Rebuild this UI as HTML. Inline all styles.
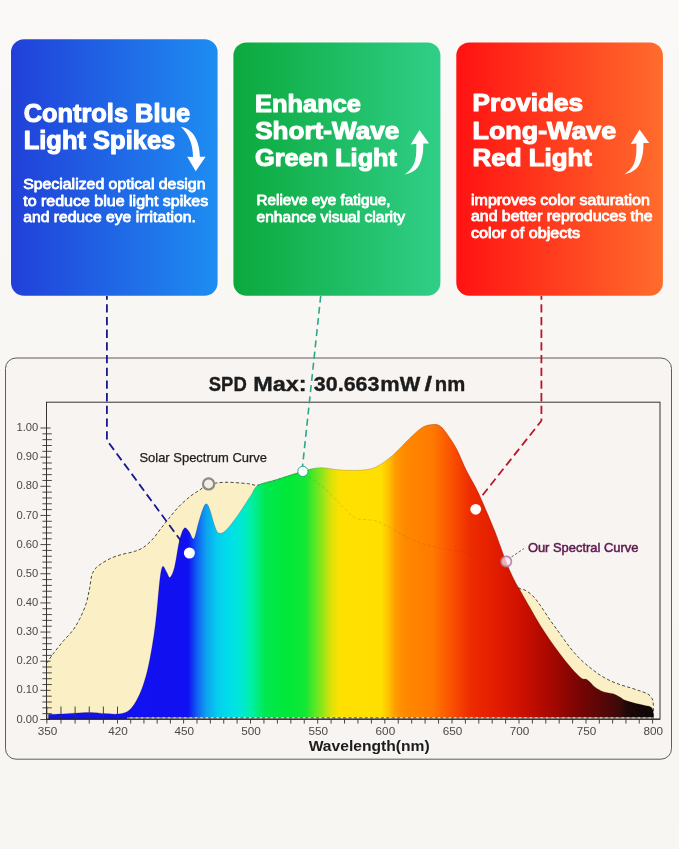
<!DOCTYPE html>
<html><head><meta charset="utf-8"><title>Spectrum</title>
<style>
html,body{margin:0;padding:0;background:#f9f6f3;}
body{width:679px;height:849px;overflow:hidden;font-family:"Liberation Sans",sans-serif;}
svg{display:block;will-change:transform;font-family:"Liberation Sans",sans-serif;}
.h{font-weight:bold;fill:#fff;stroke:#fff;stroke-width:1.1px;stroke-linejoin:round;}
.b{fill:#fff;stroke:#fff;stroke-width:.8px;stroke-linejoin:round;}
.ax{fill:#4a4a4a;font-size:11.7px;}
</style></head><body>
<svg width="679" height="849" viewBox="0 0 679 849">
<defs>
<linearGradient id="gb" x1="0" x2="1" y1="0" y2="0"><stop offset="0" stop-color="#2140d9"/><stop offset="1" stop-color="#1e8df2"/></linearGradient>
<linearGradient id="gg" x1="0" x2="1" y1="0" y2="0"><stop offset="0" stop-color="#0ba93c"/><stop offset="1" stop-color="#30cf88"/></linearGradient>
<linearGradient id="gr" x1="0" x2="1" y1="0" y2="0"><stop offset="0" stop-color="#ff1212"/><stop offset="1" stop-color="#ff6c2c"/></linearGradient>
<linearGradient id="sp" gradientUnits="userSpaceOnUse" x1="47" x2="653.6" y1="0" y2="0"><stop offset="0.0000" stop-color="#1212ee"/><stop offset="0.2324" stop-color="#1010f2"/><stop offset="0.2473" stop-color="#0f60f2"/><stop offset="0.2621" stop-color="#0ea0f0"/><stop offset="0.2803" stop-color="#06ccee"/><stop offset="0.3000" stop-color="#00deea"/><stop offset="0.3198" stop-color="#00e8d6"/><stop offset="0.3363" stop-color="#00f0a8"/><stop offset="0.3594" stop-color="#00e850"/><stop offset="0.3924" stop-color="#00e83c"/><stop offset="0.4253" stop-color="#10e834"/><stop offset="0.4500" stop-color="#7fe61e"/><stop offset="0.4698" stop-color="#e0e208"/><stop offset="0.4830" stop-color="#ffe100"/><stop offset="0.5506" stop-color="#ffdf00"/><stop offset="0.5621" stop-color="#ffc400"/><stop offset="0.5737" stop-color="#ff9c00"/><stop offset="0.5902" stop-color="#ff8800"/><stop offset="0.6347" stop-color="#ff7a00"/><stop offset="0.6677" stop-color="#fb5000"/><stop offset="0.6973" stop-color="#ee2c00"/><stop offset="0.7468" stop-color="#e01a00"/><stop offset="0.7831" stop-color="#cc1000"/><stop offset="0.8292" stop-color="#a80800"/><stop offset="0.8787" stop-color="#780404"/><stop offset="0.9281" stop-color="#4c0808"/><stop offset="0.9463" stop-color="#380a0a"/><stop offset="0.9561" stop-color="#1c0808"/><stop offset="1.0000" stop-color="#0e0606"/></linearGradient>
<linearGradient id="bgv" x1="0" x2="0" y1="0" y2="1"><stop offset="0" stop-color="#fbf9f7"/><stop offset="0.4" stop-color="#f9f7f4"/><stop offset="1" stop-color="#f8f6f2"/></linearGradient>
<clipPath id="oursclip"><path d="M48.4,714.3 C50.3,714.2 53.3,714.3 60.0,714.0 C66.7,713.7 81.1,712.5 88.6,712.4 C96.1,712.3 100.1,713.3 105.0,713.6 C109.9,713.9 114.0,714.4 117.8,714.0 C121.5,713.6 124.8,713.0 127.5,711.4 C130.2,709.8 131.9,707.8 134.2,704.3 C136.5,700.8 139.1,695.7 141.3,690.2 C143.5,684.7 145.4,678.4 147.2,671.3 C149.0,664.2 150.5,655.6 151.9,647.8 C153.3,639.9 154.4,632.1 155.4,624.2 C156.4,616.4 157.0,608.5 157.8,600.7 C158.6,592.9 159.3,583.2 160.1,577.5 C160.9,571.8 161.6,567.3 162.7,566.4 C163.8,565.5 165.4,570.2 166.6,572.0 C167.8,573.8 168.7,578.2 170.0,577.4 C171.3,576.6 172.9,573.2 174.5,567.2 C176.1,561.2 177.7,547.8 179.3,541.3 C180.9,534.8 182.6,529.9 184.2,528.3 C185.8,526.7 187.4,529.9 189.0,531.6 C190.6,533.3 192.3,540.3 193.9,538.7 C195.5,537.1 197.2,527.0 198.8,521.8 C200.4,516.6 202.2,510.3 203.6,507.3 C204.9,504.3 205.8,503.5 206.9,504.0 C208.0,504.5 208.8,506.7 210.1,510.5 C211.4,514.3 213.5,522.9 215.0,526.7 C216.5,530.5 217.0,532.7 218.9,533.2 C220.8,533.7 223.2,532.9 226.3,529.9 C229.4,526.9 233.6,521.1 237.7,515.4 C241.8,509.7 247.2,500.9 250.6,495.9 C254.0,490.9 253.9,487.9 258.1,485.2 C262.3,482.5 268.6,482.0 275.9,479.7 C283.2,477.4 294.5,473.6 301.8,471.6 C309.1,469.6 313.2,468.0 319.7,467.7 C326.2,467.4 333.4,469.6 340.7,470.0 C348.0,470.4 357.4,470.6 363.4,470.0 C369.3,469.4 371.5,469.1 376.4,466.7 C381.3,464.3 387.2,460.0 392.6,455.4 C398.0,450.8 404.0,443.8 408.8,439.2 C413.6,434.6 417.9,430.2 421.7,427.8 C425.5,425.4 428.5,425.0 431.5,424.6 C434.5,424.2 436.9,424.0 439.6,425.6 C442.3,427.2 444.6,430.5 447.5,434.5 C450.4,438.5 453.9,443.6 457.0,449.6 C460.1,455.6 463.1,463.7 466.4,470.3 C469.7,476.9 473.4,482.5 476.6,489.1 C479.9,495.7 482.9,502.9 485.9,509.8 C488.9,516.7 492.2,524.6 494.6,530.5 C497.0,536.4 497.9,539.2 500.0,545.0 C502.1,550.8 505.0,559.0 507.5,565.0 C510.0,571.0 512.9,577.1 515.0,581.3 C517.1,585.5 517.5,585.7 520.0,590.1 C522.5,594.5 526.6,601.8 530.0,607.6 C533.4,613.4 536.8,619.7 540.1,625.1 C543.5,630.5 546.8,635.4 550.1,640.2 C553.4,645.0 556.8,649.5 560.1,653.9 C563.4,658.3 567.2,663.0 570.1,666.5 C573.0,670.0 575.5,672.7 577.6,674.7 C579.7,676.8 581.1,678.0 582.6,678.8 C584.1,679.6 585.1,678.7 586.4,679.3 C587.6,679.9 588.6,680.9 590.1,682.2 C591.6,683.5 593.0,685.7 595.1,687.2 C597.2,688.8 600.2,690.5 602.7,691.5 C605.2,692.5 608.3,692.8 610.2,693.2 C612.1,693.6 612.5,693.5 613.9,694.0 C615.3,694.5 617.0,695.5 618.9,696.5 C620.8,697.5 622.5,699.2 625.2,700.3 C627.9,701.4 632.1,702.5 635.2,703.3 C638.3,704.1 641.4,704.7 644.0,705.3 C646.6,705.9 649.1,706.1 650.6,706.9 C652.1,707.7 652.4,708.4 652.9,710.2 C653.4,712.1 653.3,716.7 653.4,718.0 L653.6,719.0 L48.4,719.0 Z"/></clipPath>
</defs>
<rect width="679" height="849" fill="url(#bgv)"/>

<!-- cards -->
<rect x="11" y="39.3" width="206.6" height="256.4" rx="13" fill="url(#gb)"/>
<rect x="233.4" y="42.4" width="207" height="253.3" rx="13" fill="url(#gg)"/>
<rect x="456.3" y="42.4" width="206.6" height="253.3" rx="13" fill="url(#gr)"/>

<!-- blue card text -->
<g class="h" font-size="25.4">
<text x="23.7" y="121.7" textLength="166.4" lengthAdjust="spacingAndGlyphs">Controls Blue</text>
<text x="23.7" y="149.2" textLength="151.6" lengthAdjust="spacingAndGlyphs">Light Spikes</text>
</g>
<g class="b" font-size="14.6">
<text x="23.2" y="189" textLength="182.3" lengthAdjust="spacingAndGlyphs">Specialized optical design</text>
<text x="23.2" y="205.8" textLength="185" lengthAdjust="spacingAndGlyphs">to reduce blue light spikes</text>
<text x="23.2" y="222.4" textLength="172.6" lengthAdjust="spacingAndGlyphs">and reduce eye irritation.</text>
</g>
<path d="M181,126.9 C191,128 199.5,138 199.9,156.7 L205.6,156.7 L195.7,171.3 L187.2,156.7 L193,157 C193,144 188.5,133.5 181,126.9 Z" fill="#fff"/>

<!-- green card text -->
<g class="h" font-size="24.6">
<text x="255" y="111.7" textLength="106" lengthAdjust="spacingAndGlyphs">Enhance</text>
<text x="255.2" y="138.6" textLength="144" lengthAdjust="spacingAndGlyphs">Short-Wave</text>
<text x="255" y="165.5" textLength="142" lengthAdjust="spacingAndGlyphs">Green Light</text>
</g>
<g class="b" font-size="14">
<text x="256.6" y="205.3" textLength="134" lengthAdjust="spacingAndGlyphs">Relieve eye fatigue,</text>
<text x="256.6" y="221.7" textLength="148.5" lengthAdjust="spacingAndGlyphs">enhance visual clarity</text>
</g>
<path d="M404.4,174.6 C405.2,173.9 407.9,172.3 409.5,170.5 C411.1,168.7 413.0,166.3 414.1,163.6 C415.2,160.9 415.7,157.8 416.1,154.5 C416.5,151.2 416.3,145.6 416.4,143.8 L410.7,144.5 L419.5,130 L429.1,143.4 L423.3,143.5 C423.2,145.3 423.4,150.8 422.6,154.5 C421.8,158.2 420.5,163.0 418.7,165.9 C416.9,168.8 414.2,170.7 411.8,172.1 C409.4,173.5 405.6,174.2 404.4,174.6 Z" fill="#fff"/>

<!-- red card text -->
<g class="h" font-size="24.6">
<text x="472.6" y="111.1" textLength="110.4" lengthAdjust="spacingAndGlyphs">Provides</text>
<text x="472.6" y="138.9" textLength="143.6" lengthAdjust="spacingAndGlyphs">Long-Wave</text>
<text x="472.6" y="165.9" textLength="119.4" lengthAdjust="spacingAndGlyphs">Red Light</text>
</g>
<g class="b" font-size="14">
<text x="471" y="204.7" textLength="178.8" lengthAdjust="spacingAndGlyphs">improves color saturation</text>
<text x="471" y="221.4" textLength="181.6" lengthAdjust="spacingAndGlyphs">and better reproduces the</text>
<text x="471" y="237.7" textLength="109" lengthAdjust="spacingAndGlyphs">color of objects</text>
</g>
<path d="M404.4,174.6 C405.2,173.9 407.9,172.3 409.5,170.5 C411.1,168.7 413.0,166.3 414.1,163.6 C415.2,160.9 415.7,157.8 416.1,154.5 C416.5,151.2 416.3,145.6 416.4,143.8 L410.7,144.5 L419.5,130 L429.1,143.4 L423.3,143.5 C423.2,145.3 423.4,150.8 422.6,154.5 C421.8,158.2 420.5,163.0 418.7,165.9 C416.9,168.8 414.2,170.7 411.8,172.1 C409.4,173.5 405.6,174.2 404.4,174.6 Z" fill="#fff" transform="translate(220.1,-0.4)"/>

<!-- panel -->
<rect x="5.5" y="358" width="666" height="401.2" rx="10.5" fill="#f7f4f2" stroke="#555" stroke-width="0.95"/>
<g font-size="20" font-weight="bold" fill="#1c1c1c" stroke="#1c1c1c" stroke-width="0.35">
<text x="208.8" y="391" textLength="38" lengthAdjust="spacingAndGlyphs">SPD</text>
<text x="253.2" y="391" textLength="53.4" lengthAdjust="spacingAndGlyphs">Max:</text>
<text x="313.8" y="391" textLength="65.7" lengthAdjust="spacingAndGlyphs">30.663</text>
<text x="380.3" y="391" textLength="40" lengthAdjust="spacingAndGlyphs">mW</text>
<text x="424.4" y="391" textLength="7.6" lengthAdjust="spacingAndGlyphs">/</text>
<text x="434.8" y="391" textLength="30.4" lengthAdjust="spacingAndGlyphs">nm</text>
</g>

<!-- plot -->
<path d="M46.5,719.0 L46.5,663.4 C47.8,661.6 51.2,656.3 54.1,652.5 C57.0,648.7 60.5,644.4 63.6,640.7 C66.8,637.0 70.3,633.8 73.0,630.1 C75.7,626.4 77.8,622.6 80.0,618.3 C82.2,614.0 84.3,609.1 85.9,604.2 C87.5,599.3 88.5,593.7 89.5,588.9 C90.5,584.1 90.8,578.5 91.8,575.2 C92.8,571.9 94.1,570.5 95.3,568.9 C96.5,567.2 96.3,567.1 98.9,565.3 C101.5,563.5 106.8,560.1 110.7,558.3 C114.6,556.5 118.5,555.4 122.4,554.3 C126.3,553.2 130.7,552.7 134.2,551.5 C137.7,550.3 140.5,549.4 143.6,547.3 C146.7,545.2 150.1,542.0 153.0,538.8 C155.9,535.6 158.5,531.6 161.1,528.3 C163.7,524.9 165.8,522.2 168.7,518.7 C171.6,515.2 174.8,510.9 178.3,507.2 C181.8,503.5 186.3,499.5 189.8,496.7 C193.3,493.9 196.3,492.2 199.4,490.2 C202.5,488.2 204.3,485.9 208.5,484.6 C212.7,483.3 218.2,482.5 224.7,482.3 C231.2,482.1 241.8,483.1 247.4,483.6 C253.0,484.1 253.4,485.8 258.1,485.2 C262.9,484.6 269.8,482.0 275.9,480.2 C282.0,478.4 290.5,475.7 295.0,474.6 C299.5,473.5 300.5,473.1 303.0,473.6 C305.5,474.1 306.3,475.1 310.0,477.6 C313.7,480.2 320.4,484.9 325.0,488.9 C329.6,492.9 333.4,497.2 337.6,501.4 C341.8,505.6 346.8,511.0 350.1,513.9 C353.5,516.8 353.5,517.8 357.7,518.9 C361.9,520.0 369.8,519.2 375.2,520.7 C380.6,522.2 385.2,525.1 390.2,527.7 C395.2,530.3 400.2,534.0 405.2,536.5 C410.2,539.0 415.6,541.1 420.0,542.7 C424.4,544.3 426.4,544.8 431.5,546.1 C436.6,547.4 444.5,548.9 450.9,550.3 C457.3,551.6 463.5,551.8 470.0,554.2 C476.5,556.7 484.2,561.0 490.0,565.0 C495.8,569.0 500.0,574.1 505.0,578.0 C510.0,581.9 516.7,586.6 520.0,588.6 C523.3,590.6 522.9,588.9 525.0,590.1 C527.1,591.3 530.0,593.1 532.5,595.6 C535.0,598.1 537.2,601.0 540.1,605.1 C543.0,609.2 546.8,615.3 550.1,620.1 C553.4,624.9 556.8,629.3 560.1,633.9 C563.4,638.5 566.8,643.5 570.1,647.7 C573.4,651.9 576.8,655.6 580.1,658.9 C583.4,662.2 586.8,665.0 590.1,667.7 C593.5,670.4 596.9,673.0 600.2,675.2 C603.6,677.4 606.9,679.1 610.2,680.7 C613.5,682.3 616.9,683.5 620.2,684.7 C623.5,685.9 626.9,686.7 630.2,687.7 C633.5,688.8 637.3,690.0 640.2,691.0 C643.1,692.0 645.8,692.9 647.7,694.0 C649.6,695.1 650.6,696.2 651.5,697.7 C652.4,699.2 652.9,699.4 653.2,702.8 C653.5,706.2 653.5,715.5 653.5,718.0 L653.6,719.0 Z" fill="#fbf0c5"/>
<g stroke="#2e2e2e" stroke-width="0.85" fill="none"><path d="M40.4,719.50H50.6"/><path d="M42.4,713.67H51.8"/><path d="M42.4,707.84H51.8"/><path d="M42.4,702.01H51.8"/><path d="M42.4,696.18H51.8"/><path d="M40.4,690.35H50.6"/><path d="M42.4,684.52H51.8"/><path d="M42.4,678.69H51.8"/><path d="M42.4,672.86H51.8"/><path d="M42.4,667.03H51.8"/><path d="M40.4,661.20H50.6"/><path d="M42.4,655.37H51.8"/><path d="M42.4,649.54H51.8"/><path d="M42.4,643.71H51.8"/><path d="M42.4,637.88H51.8"/><path d="M40.4,632.05H50.6"/><path d="M42.4,626.22H51.8"/><path d="M42.4,620.39H51.8"/><path d="M42.4,614.56H51.8"/><path d="M42.4,608.73H51.8"/><path d="M40.4,602.90H50.6"/><path d="M42.4,597.07H51.8"/><path d="M42.4,591.24H51.8"/><path d="M42.4,585.41H51.8"/><path d="M42.4,579.58H51.8"/><path d="M40.4,573.75H50.6"/><path d="M42.4,567.92H51.8"/><path d="M42.4,562.09H51.8"/><path d="M42.4,556.26H51.8"/><path d="M42.4,550.43H51.8"/><path d="M40.4,544.60H50.6"/><path d="M42.4,538.77H51.8"/><path d="M42.4,532.94H51.8"/><path d="M42.4,527.11H51.8"/><path d="M42.4,521.28H51.8"/><path d="M40.4,515.45H50.6"/><path d="M42.4,509.62H51.8"/><path d="M42.4,503.79H51.8"/><path d="M42.4,497.96H51.8"/><path d="M42.4,492.13H51.8"/><path d="M40.4,486.30H50.6"/><path d="M42.4,480.47H51.8"/><path d="M42.4,474.64H51.8"/><path d="M42.4,468.81H51.8"/><path d="M42.4,462.98H51.8"/><path d="M40.4,457.15H50.6"/><path d="M42.4,451.32H51.8"/><path d="M42.4,445.49H51.8"/><path d="M42.4,439.66H51.8"/><path d="M42.4,433.83H51.8"/><path d="M40.4,428.00H50.6"/></g>
<path d="M46.5,663.4 C47.8,661.6 51.2,656.3 54.1,652.5 C57.0,648.7 60.5,644.4 63.6,640.7 C66.8,637.0 70.3,633.8 73.0,630.1 C75.7,626.4 77.8,622.6 80.0,618.3 C82.2,614.0 84.3,609.1 85.9,604.2 C87.5,599.3 88.5,593.7 89.5,588.9 C90.5,584.1 90.8,578.5 91.8,575.2 C92.8,571.9 94.1,570.5 95.3,568.9 C96.5,567.2 96.3,567.1 98.9,565.3 C101.5,563.5 106.8,560.1 110.7,558.3 C114.6,556.5 118.5,555.4 122.4,554.3 C126.3,553.2 130.7,552.7 134.2,551.5 C137.7,550.3 140.5,549.4 143.6,547.3 C146.7,545.2 150.1,542.0 153.0,538.8 C155.9,535.6 158.5,531.6 161.1,528.3 C163.7,524.9 165.8,522.2 168.7,518.7 C171.6,515.2 174.8,510.9 178.3,507.2 C181.8,503.5 186.3,499.5 189.8,496.7 C193.3,493.9 196.3,492.2 199.4,490.2 C202.5,488.2 204.3,485.9 208.5,484.6 C212.7,483.3 218.2,482.5 224.7,482.3 C231.2,482.1 241.8,483.1 247.4,483.6 C253.0,484.1 253.4,485.8 258.1,485.2 C262.9,484.6 269.8,482.0 275.9,480.2 C282.0,478.4 290.5,475.7 295.0,474.6 C299.5,473.5 300.5,473.1 303.0,473.6 C305.5,474.1 306.3,475.1 310.0,477.6 C313.7,480.2 320.4,484.9 325.0,488.9 C329.6,492.9 333.4,497.2 337.6,501.4 C341.8,505.6 346.8,511.0 350.1,513.9 C353.5,516.8 353.5,517.8 357.7,518.9 C361.9,520.0 369.8,519.2 375.2,520.7 C380.6,522.2 385.2,525.1 390.2,527.7 C395.2,530.3 400.2,534.0 405.2,536.5 C410.2,539.0 415.6,541.1 420.0,542.7 C424.4,544.3 426.4,544.8 431.5,546.1 C436.6,547.4 444.5,548.9 450.9,550.3 C457.3,551.6 463.5,551.8 470.0,554.2 C476.5,556.7 484.2,561.0 490.0,565.0 C495.8,569.0 500.0,574.1 505.0,578.0 C510.0,581.9 516.7,586.6 520.0,588.6 C523.3,590.6 522.9,588.9 525.0,590.1 C527.1,591.3 530.0,593.1 532.5,595.6 C535.0,598.1 537.2,601.0 540.1,605.1 C543.0,609.2 546.8,615.3 550.1,620.1 C553.4,624.9 556.8,629.3 560.1,633.9 C563.4,638.5 566.8,643.5 570.1,647.7 C573.4,651.9 576.8,655.6 580.1,658.9 C583.4,662.2 586.8,665.0 590.1,667.7 C593.5,670.4 596.9,673.0 600.2,675.2 C603.6,677.4 606.9,679.1 610.2,680.7 C613.5,682.3 616.9,683.5 620.2,684.7 C623.5,685.9 626.9,686.7 630.2,687.7 C633.5,688.8 637.3,690.0 640.2,691.0 C643.1,692.0 645.8,692.9 647.7,694.0 C649.6,695.1 650.6,696.2 651.5,697.7 C652.4,699.2 652.9,699.4 653.2,702.8 C653.5,706.2 653.5,715.5 653.5,718.0" fill="none" stroke="#3a3a30" stroke-width="0.9" stroke-dasharray="3.2 2.2"/>
<path d="M48.4,714.3 C50.3,714.2 53.3,714.3 60.0,714.0 C66.7,713.7 81.1,712.5 88.6,712.4 C96.1,712.3 100.1,713.3 105.0,713.6 C109.9,713.9 114.0,714.4 117.8,714.0 C121.5,713.6 124.8,713.0 127.5,711.4 C130.2,709.8 131.9,707.8 134.2,704.3 C136.5,700.8 139.1,695.7 141.3,690.2 C143.5,684.7 145.4,678.4 147.2,671.3 C149.0,664.2 150.5,655.6 151.9,647.8 C153.3,639.9 154.4,632.1 155.4,624.2 C156.4,616.4 157.0,608.5 157.8,600.7 C158.6,592.9 159.3,583.2 160.1,577.5 C160.9,571.8 161.6,567.3 162.7,566.4 C163.8,565.5 165.4,570.2 166.6,572.0 C167.8,573.8 168.7,578.2 170.0,577.4 C171.3,576.6 172.9,573.2 174.5,567.2 C176.1,561.2 177.7,547.8 179.3,541.3 C180.9,534.8 182.6,529.9 184.2,528.3 C185.8,526.7 187.4,529.9 189.0,531.6 C190.6,533.3 192.3,540.3 193.9,538.7 C195.5,537.1 197.2,527.0 198.8,521.8 C200.4,516.6 202.2,510.3 203.6,507.3 C204.9,504.3 205.8,503.5 206.9,504.0 C208.0,504.5 208.8,506.7 210.1,510.5 C211.4,514.3 213.5,522.9 215.0,526.7 C216.5,530.5 217.0,532.7 218.9,533.2 C220.8,533.7 223.2,532.9 226.3,529.9 C229.4,526.9 233.6,521.1 237.7,515.4 C241.8,509.7 247.2,500.9 250.6,495.9 C254.0,490.9 253.9,487.9 258.1,485.2 C262.3,482.5 268.6,482.0 275.9,479.7 C283.2,477.4 294.5,473.6 301.8,471.6 C309.1,469.6 313.2,468.0 319.7,467.7 C326.2,467.4 333.4,469.6 340.7,470.0 C348.0,470.4 357.4,470.6 363.4,470.0 C369.3,469.4 371.5,469.1 376.4,466.7 C381.3,464.3 387.2,460.0 392.6,455.4 C398.0,450.8 404.0,443.8 408.8,439.2 C413.6,434.6 417.9,430.2 421.7,427.8 C425.5,425.4 428.5,425.0 431.5,424.6 C434.5,424.2 436.9,424.0 439.6,425.6 C442.3,427.2 444.6,430.5 447.5,434.5 C450.4,438.5 453.9,443.6 457.0,449.6 C460.1,455.6 463.1,463.7 466.4,470.3 C469.7,476.9 473.4,482.5 476.6,489.1 C479.9,495.7 482.9,502.9 485.9,509.8 C488.9,516.7 492.2,524.6 494.6,530.5 C497.0,536.4 497.9,539.2 500.0,545.0 C502.1,550.8 505.0,559.0 507.5,565.0 C510.0,571.0 512.9,577.1 515.0,581.3 C517.1,585.5 517.5,585.7 520.0,590.1 C522.5,594.5 526.6,601.8 530.0,607.6 C533.4,613.4 536.8,619.7 540.1,625.1 C543.5,630.5 546.8,635.4 550.1,640.2 C553.4,645.0 556.8,649.5 560.1,653.9 C563.4,658.3 567.2,663.0 570.1,666.5 C573.0,670.0 575.5,672.7 577.6,674.7 C579.7,676.8 581.1,678.0 582.6,678.8 C584.1,679.6 585.1,678.7 586.4,679.3 C587.6,679.9 588.6,680.9 590.1,682.2 C591.6,683.5 593.0,685.7 595.1,687.2 C597.2,688.8 600.2,690.5 602.7,691.5 C605.2,692.5 608.3,692.8 610.2,693.2 C612.1,693.6 612.5,693.5 613.9,694.0 C615.3,694.5 617.0,695.5 618.9,696.5 C620.8,697.5 622.5,699.2 625.2,700.3 C627.9,701.4 632.1,702.5 635.2,703.3 C638.3,704.1 641.4,704.7 644.0,705.3 C646.6,705.9 649.1,706.1 650.6,706.9 C652.1,707.7 652.4,708.4 652.9,710.2 C653.4,712.1 653.3,716.7 653.4,718.0 L653.6,719.0 L48.4,719.0 Z" fill="url(#sp)" stroke="#200" stroke-opacity="0.28" stroke-width="0.7"/>
<path d="M46.5,663.4 C47.8,661.6 51.2,656.3 54.1,652.5 C57.0,648.7 60.5,644.4 63.6,640.7 C66.8,637.0 70.3,633.8 73.0,630.1 C75.7,626.4 77.8,622.6 80.0,618.3 C82.2,614.0 84.3,609.1 85.9,604.2 C87.5,599.3 88.5,593.7 89.5,588.9 C90.5,584.1 90.8,578.5 91.8,575.2 C92.8,571.9 94.1,570.5 95.3,568.9 C96.5,567.2 96.3,567.1 98.9,565.3 C101.5,563.5 106.8,560.1 110.7,558.3 C114.6,556.5 118.5,555.4 122.4,554.3 C126.3,553.2 130.7,552.7 134.2,551.5 C137.7,550.3 140.5,549.4 143.6,547.3 C146.7,545.2 150.1,542.0 153.0,538.8 C155.9,535.6 158.5,531.6 161.1,528.3 C163.7,524.9 165.8,522.2 168.7,518.7 C171.6,515.2 174.8,510.9 178.3,507.2 C181.8,503.5 186.3,499.5 189.8,496.7 C193.3,493.9 196.3,492.2 199.4,490.2 C202.5,488.2 204.3,485.9 208.5,484.6 C212.7,483.3 218.2,482.5 224.7,482.3 C231.2,482.1 241.8,483.1 247.4,483.6 C253.0,484.1 253.4,485.8 258.1,485.2 C262.9,484.6 269.8,482.0 275.9,480.2 C282.0,478.4 290.5,475.7 295.0,474.6 C299.5,473.5 300.5,473.1 303.0,473.6 C305.5,474.1 306.3,475.1 310.0,477.6 C313.7,480.2 320.4,484.9 325.0,488.9 C329.6,492.9 333.4,497.2 337.6,501.4 C341.8,505.6 346.8,511.0 350.1,513.9 C353.5,516.8 353.5,517.8 357.7,518.9 C361.9,520.0 369.8,519.2 375.2,520.7 C380.6,522.2 385.2,525.1 390.2,527.7 C395.2,530.3 400.2,534.0 405.2,536.5 C410.2,539.0 415.6,541.1 420.0,542.7 C424.4,544.3 426.4,544.8 431.5,546.1 C436.6,547.4 444.5,548.9 450.9,550.3 C457.3,551.6 463.5,551.8 470.0,554.2 C476.5,556.7 484.2,561.0 490.0,565.0 C495.8,569.0 500.0,574.1 505.0,578.0 C510.0,581.9 516.7,586.6 520.0,588.6 C523.3,590.6 522.9,588.9 525.0,590.1 C527.1,591.3 530.0,593.1 532.5,595.6 C535.0,598.1 537.2,601.0 540.1,605.1 C543.0,609.2 546.8,615.3 550.1,620.1 C553.4,624.9 556.8,629.3 560.1,633.9 C563.4,638.5 566.8,643.5 570.1,647.7 C573.4,651.9 576.8,655.6 580.1,658.9 C583.4,662.2 586.8,665.0 590.1,667.7 C593.5,670.4 596.9,673.0 600.2,675.2 C603.6,677.4 606.9,679.1 610.2,680.7 C613.5,682.3 616.9,683.5 620.2,684.7 C623.5,685.9 626.9,686.7 630.2,687.7 C633.5,688.8 637.3,690.0 640.2,691.0 C643.1,692.0 645.8,692.9 647.7,694.0 C649.6,695.1 650.6,696.2 651.5,697.7 C652.4,699.2 652.9,699.4 653.2,702.8 C653.5,706.2 653.5,715.5 653.5,718.0" fill="none" stroke="#5a4a18" stroke-opacity="0.24" stroke-width="0.75" stroke-dasharray="3.2 2.2" clip-path="url(#oursclip)"/>
<path d="M127,718.1H653.6" stroke="#fbf3dc" stroke-width="1.7" fill="none"/>
<path d="M127,717.9H653.6" stroke="#3a3028" stroke-width="0.9" stroke-dasharray="3.2 2.2" fill="none"/>
<g stroke="#333" stroke-width="0.9" fill="none"><path d="M46.85,706.5V723.6"/><path d="M60.98,706.5V723.6"/><path d="M75.11,706.5V723.6"/><path d="M89.24,706.5V723.6"/><path d="M103.37,706.5V723.6"/><path d="M117.50,706.5V723.6"/><path d="M130.72,719V723.6"/><path d="M143.94,719V723.6"/><path d="M157.16,719V723.6"/><path d="M170.38,719V723.6"/><path d="M183.60,719V723.6"/><path d="M196.98,719V723.6"/><path d="M210.36,719V723.6"/><path d="M223.74,719V723.6"/><path d="M237.12,719V723.6"/><path d="M250.50,719V723.6"/><path d="M263.94,719V723.6"/><path d="M277.38,719V723.6"/><path d="M290.82,719V723.6"/><path d="M304.26,719V723.6"/><path d="M317.70,719V723.6"/><path d="M331.12,719V723.6"/><path d="M344.54,719V723.6"/><path d="M357.96,719V723.6"/><path d="M371.38,719V723.6"/><path d="M384.80,719V723.6"/><path d="M398.24,719V723.6"/><path d="M411.68,719V723.6"/><path d="M425.12,719V723.6"/><path d="M438.56,719V723.6"/><path d="M452.00,719V723.6"/><path d="M465.40,719V723.6"/><path d="M478.80,719V723.6"/><path d="M492.20,719V723.6"/><path d="M505.60,719V723.6"/><path d="M519.00,719V723.6"/><path d="M532.40,719V723.6"/><path d="M545.80,719V723.6"/><path d="M559.20,719V723.6"/><path d="M572.60,719V723.6"/><path d="M586.00,719V723.6"/><path d="M599.32,719V723.6"/><path d="M612.64,719V723.6"/><path d="M625.96,719V723.6"/><path d="M639.28,719V723.6"/><path d="M652.60,719V723.6"/></g>
<rect x="46.5" y="402.2" width="613.5" height="317" fill="none" stroke="#2a2a2a" stroke-width="0.95"/>
<path d="M46.5,719.2H660" stroke="#262626" stroke-width="1" fill="none"/>
<g class="ax"><text x="38.3" y="722.5" text-anchor="end" textLength="21.8" lengthAdjust="spacingAndGlyphs">0.00</text><text x="38.3" y="693.4" text-anchor="end" textLength="21.8" lengthAdjust="spacingAndGlyphs">0.10</text><text x="38.3" y="664.2" text-anchor="end" textLength="21.8" lengthAdjust="spacingAndGlyphs">0.20</text><text x="38.3" y="635.0" text-anchor="end" textLength="21.8" lengthAdjust="spacingAndGlyphs">0.30</text><text x="38.3" y="605.9" text-anchor="end" textLength="21.8" lengthAdjust="spacingAndGlyphs">0.40</text><text x="38.3" y="576.8" text-anchor="end" textLength="21.8" lengthAdjust="spacingAndGlyphs">0.50</text><text x="38.3" y="547.6" text-anchor="end" textLength="21.8" lengthAdjust="spacingAndGlyphs">0.60</text><text x="38.3" y="518.5" text-anchor="end" textLength="21.8" lengthAdjust="spacingAndGlyphs">0.70</text><text x="38.3" y="489.3" text-anchor="end" textLength="21.8" lengthAdjust="spacingAndGlyphs">0.80</text><text x="38.3" y="460.1" text-anchor="end" textLength="21.8" lengthAdjust="spacingAndGlyphs">0.90</text><text x="38.3" y="431.0" text-anchor="end" textLength="21.8" lengthAdjust="spacingAndGlyphs">1.00</text><text x="47.6" y="734.8" font-size="11.3" text-anchor="middle" textLength="19.6" lengthAdjust="spacingAndGlyphs">350</text><text x="118.1" y="734.8" font-size="11.3" text-anchor="middle" textLength="19.6" lengthAdjust="spacingAndGlyphs">420</text><text x="184.2" y="734.8" font-size="11.3" text-anchor="middle" textLength="19.6" lengthAdjust="spacingAndGlyphs">450</text><text x="251.1" y="734.8" font-size="11.3" text-anchor="middle" textLength="19.6" lengthAdjust="spacingAndGlyphs">500</text><text x="318.3" y="734.8" font-size="11.3" text-anchor="middle" textLength="19.6" lengthAdjust="spacingAndGlyphs">550</text><text x="385.4" y="734.8" font-size="11.3" text-anchor="middle" textLength="19.6" lengthAdjust="spacingAndGlyphs">600</text><text x="452.6" y="734.8" font-size="11.3" text-anchor="middle" textLength="19.6" lengthAdjust="spacingAndGlyphs">650</text><text x="519.6" y="734.8" font-size="11.3" text-anchor="middle" textLength="19.6" lengthAdjust="spacingAndGlyphs">700</text><text x="586.6" y="734.8" font-size="11.3" text-anchor="middle" textLength="19.6" lengthAdjust="spacingAndGlyphs">750</text><text x="653.2" y="734.8" font-size="11.3" text-anchor="middle" textLength="19.6" lengthAdjust="spacingAndGlyphs">800</text></g>
<text x="308.7" y="750.6" font-size="14" font-weight="bold" fill="#1c1c1c" textLength="121" lengthAdjust="spacingAndGlyphs">Wavelength(nm)</text>

<!-- labels -->
<text x="139.4" y="462" font-size="13.5" fill="#1e1e1e" stroke="#1e1e1e" stroke-width="0.25" textLength="127.6" lengthAdjust="spacingAndGlyphs">Solar Spectrum Curve</text>
<text x="527.9" y="552" font-size="12.8" fill="#5e1a4e" stroke="#5e1a4e" stroke-width="0.5" textLength="110.5" lengthAdjust="spacingAndGlyphs">Our Spectral Curve</text>
<path d="M511.5,557 L524,548.5" stroke="#6b4a66" stroke-width="0.9" stroke-dasharray="2.6 1.8" fill="none"/>

<!-- connectors -->
<path d="M106.9,296 V440.2 L181,541" fill="none" stroke="#17188a" stroke-width="1.8" stroke-dasharray="8.3 4.4" stroke-dashoffset="4.5"/>
<path d="M320.7,296 L302.5,466.6" fill="none" stroke="#2aa98a" stroke-width="1.6" stroke-dasharray="7 4.26" stroke-dashoffset="0.4"/>
<path d="M541.4,296 V420.8 L482.4,495.4" fill="none" stroke="#bb152a" stroke-width="1.8" stroke-dasharray="8.3 4.4" stroke-dashoffset="4.5"/>

<!-- dots -->
<circle cx="189.4" cy="553" r="5.5" fill="#fff"/>
<circle cx="302.9" cy="471.4" r="5.1" fill="#fff" stroke="#2aa98a" stroke-width="1"/>
<circle cx="475.7" cy="509.3" r="5.4" fill="#fff"/>
<circle cx="208.6" cy="483.9" r="5.6" fill="#f1eee4" stroke="#8a8a86" stroke-width="2.2"/>
<circle cx="506.2" cy="561.5" r="5.2" fill="#ffe6f0" fill-opacity="0.72" stroke="#a87aa0" stroke-opacity="0.85" stroke-width="1.7"/>
</svg>
</body></html>
